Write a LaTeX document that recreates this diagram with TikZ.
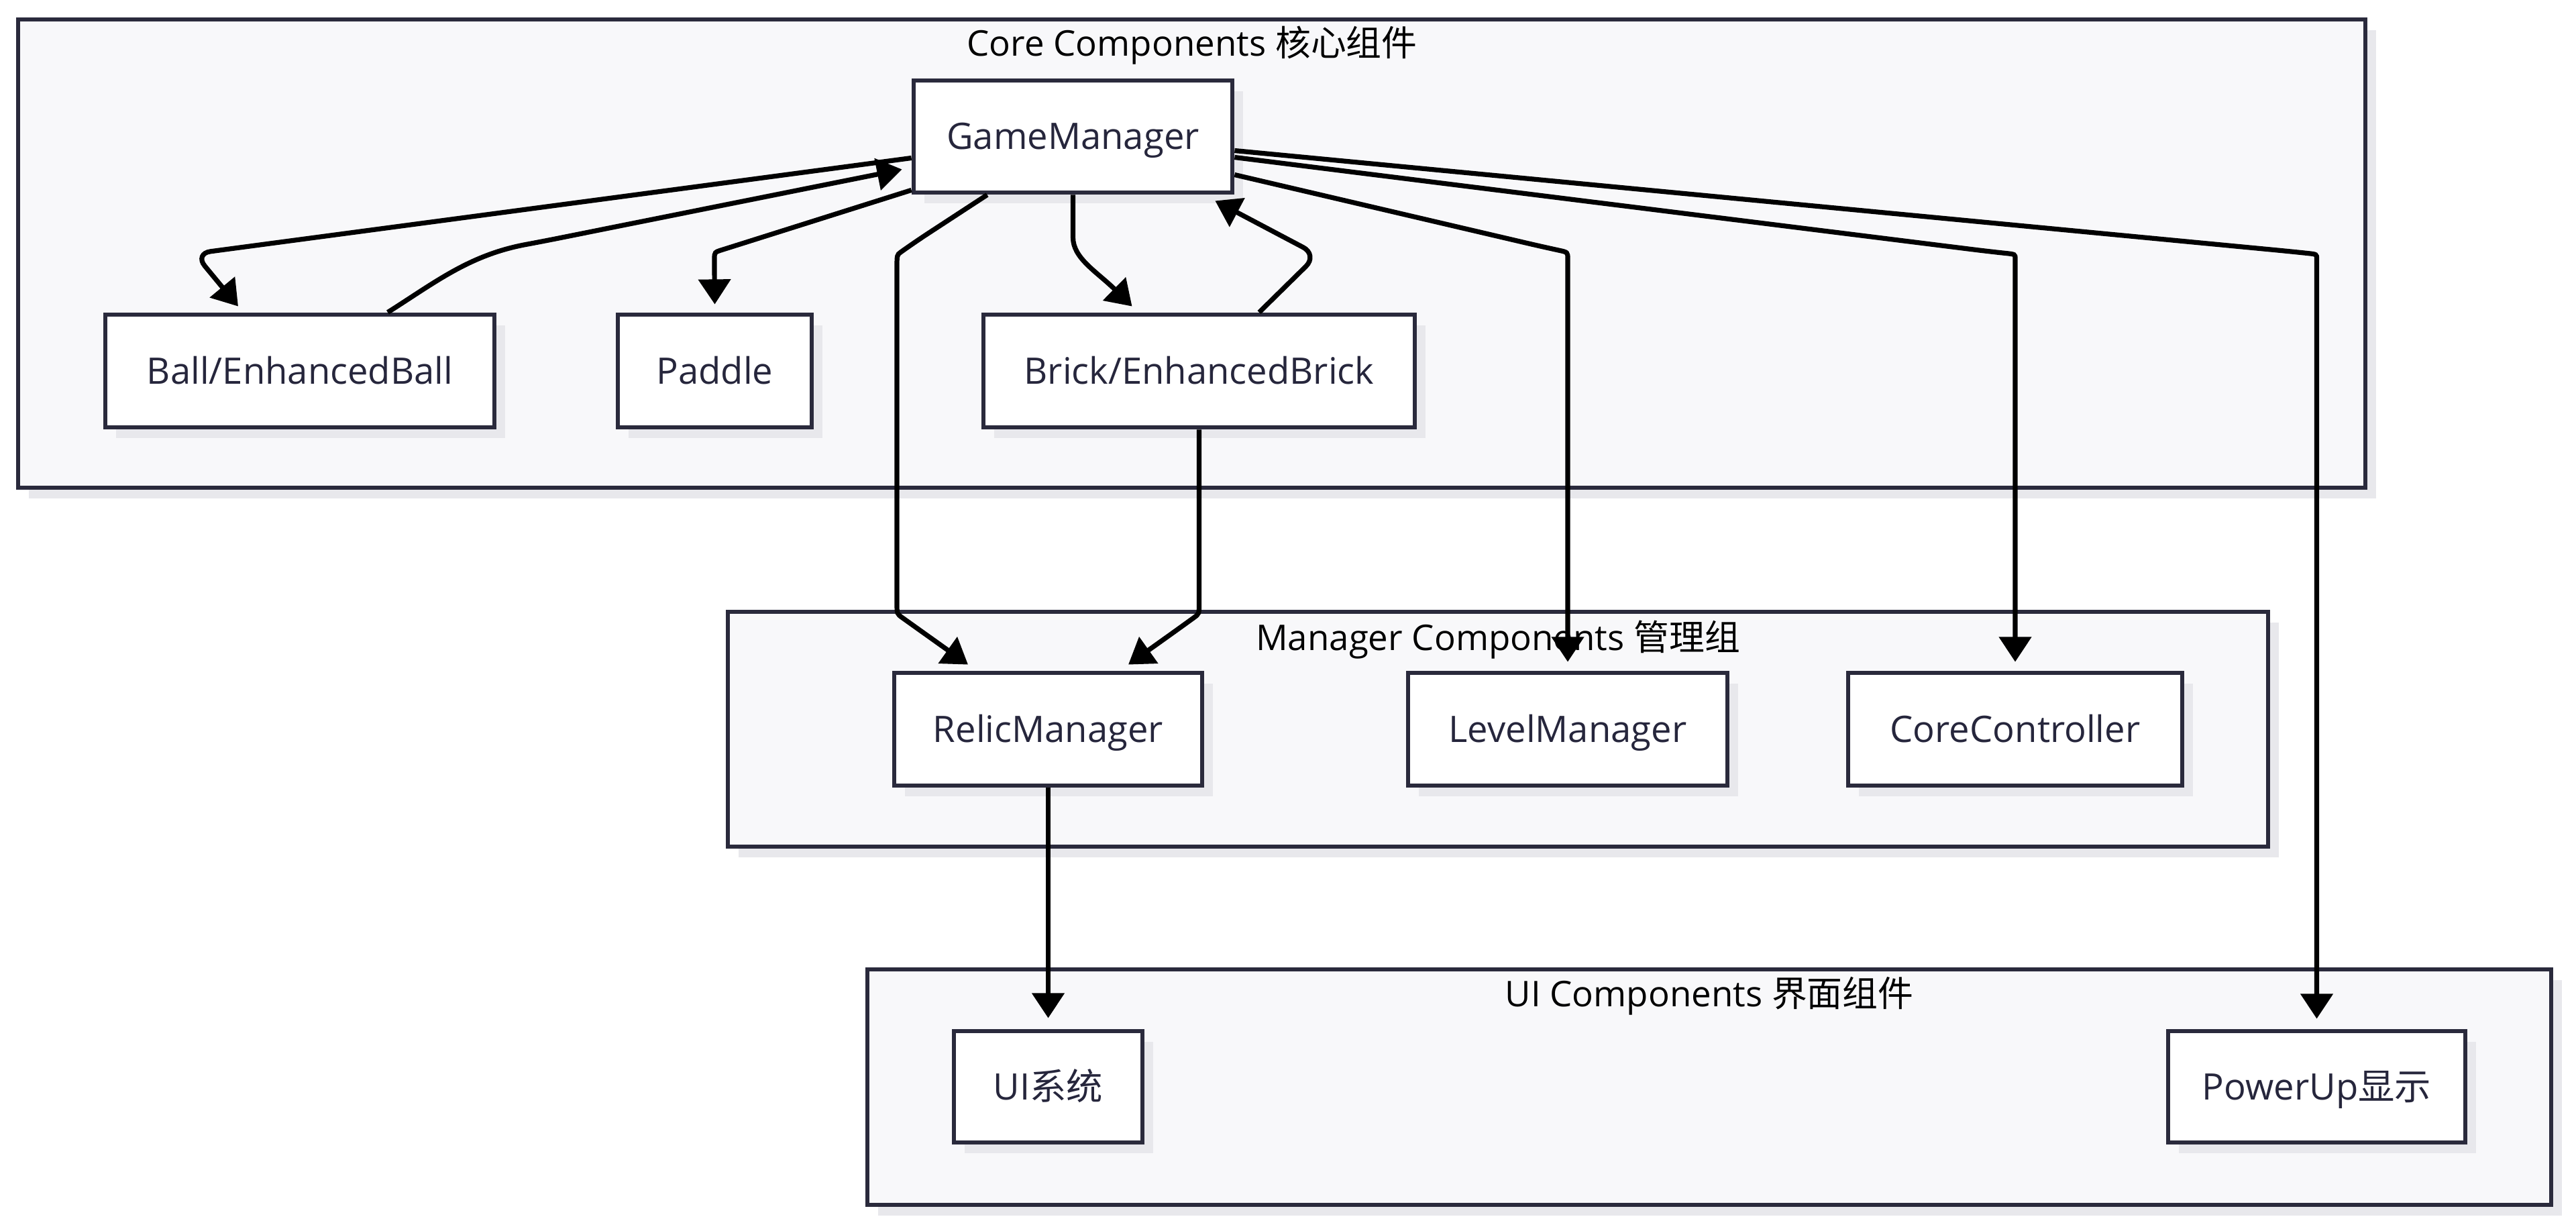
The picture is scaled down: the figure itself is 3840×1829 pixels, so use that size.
\documentclass[tikz,border=0pt]{standalone}
\usepackage{fontspec}
\setmainfont{Open Sans}
\newfontfamily\cjk{Noto Sans CJK SC}
\usetikzlibrary{arrows.meta,calc}
\definecolor{bordc}{RGB}{42,42,60}
\definecolor{txtc}{RGB}{38,38,60}
\definecolor{shadc}{RGB}{232,232,236}
\definecolor{grpc}{RGB}{248,248,250}
\tikzset{
  nodebox/.style={draw=bordc, line width=1.7pt, fill=white, inner sep=0pt, text=txtc,
    font=\fontsize{13.6}{15}\selectfont, text height=9.7pt, text depth=0pt},
  grpbox/.style={draw=bordc, line width=1.6pt, fill=grpc, inner sep=0pt},
  shad/.style={fill=shadc},
  grptitle/.style={anchor=base, font=\fontsize{13.2}{15}\selectfont, text=black, inner sep=0pt},
  edge/.style={draw=black, line width=1.8pt, -{Triangle[length=9.3pt,width=11.8pt]}, rounded corners=6pt},
}
\newcommand\mynode[6]{%
  \fill[shad] (#2+16,#3+16) rectangle (#4+16,#5+16);
  \node[nodebox, minimum width={(#4-#2)*0.25pt}, minimum height={(#5-#3)*0.25pt}]
    (#1) at ({(#2+#4)/2},{(#3+#5)/2}) {#6};}
\newcommand\mygroup[5]{%
  \fill[shad] (#2+16,#3+16) rectangle (#4+16,#5+16);
  \node[grpbox, minimum width={(#4-#2)*0.25pt}, minimum height={(#5-#3)*0.25pt}]
    (#1) at ({(#2+#4)/2},{(#3+#5)/2}) {};}
\begin{document}
\begin{tikzpicture}[x=0.25pt,y=-0.25pt]
\useasboundingbox[fill=white] (0,0) rectangle (3840,1829);
% groups
\mygroup{coreg}{27}{29}{3526}{727}
\mygroup{mgrg}{1085}{912}{3381}{1262}
\mygroup{uig}{1293}{1445}{3803}{1796}
\node[grptitle] (coret) at (1777,84) {Core Components {\cjk 核心组件}};
\node[grptitle] (mgrt) at (2233,969) {Manager Components {\cjk 管理组}};
\node[grptitle] (uit) at (2548,1500) {UI Components {\cjk 界面组件}};
% nodes
\mynode{gm}{1362}{120}{1837}{287}{GameManager}
\mynode{ball}{157}{469}{737}{637}{Ball/EnhancedBall}
\mynode{paddle}{921}{469}{1210}{637}{Paddle}
\mynode{brick}{1466}{469}{2109}{637}{Brick/EnhancedBrick}
\mynode{relic}{1333}{1003}{1792}{1171}{RelicManager}
\mynode{level}{2099}{1003}{2575}{1171}{LevelManager}
\mynode{corec}{2755}{1003}{3253}{1171}{CoreController}
\mynode{uisys}{1422}{1537}{1703}{1703}{UI{\cjk 系统}}
\mynode{powerup}{3232}{1537}{3675}{1703}{PowerUp{\cjk 显示}}
% edges
\draw[edge] ($(gm.west)+(0,32)$) -- (290,378) -- ($(ball.north)+(-92,-9)$);
\draw[edge] (ball.north -| 578,0) .. controls (650,420) and (700,380) .. (808,360) -- ($(gm.west)+(-14,49)$);
\draw[edge] ($(gm.south west)+(0,-7)$) -- (1100,365) .. controls (1065,376) .. (1065,410) -- ($(paddle.north)+(0,-12)$);
\draw[edge] (gm.south) -- (1599.5,330) .. controls (1599.5,385) and (1635,405) .. ($(brick.north)+(-100,-9)$);
\draw[edge] ($(brick.north)+(89.5,0)$) -- (1964,380) -- ($(gm.south east)+(-29,9)$);
\draw[edge] ($(gm.south west)+(113,0)$) -- (1362,362) .. controls (1337,380) .. (1337,425) -- (1337,875) .. controls (1337,915) .. (1365,935) -- ($(relic.north)+(-119.5,-9)$);
\draw[edge] (brick.south) -- (1787.5,875) .. controls (1787.5,915) .. (1760,935) -- ($(relic.north)+(119.5,-9)$);
\draw[edge] ($(gm.east)+(0,57)$) -- (2300,368) .. controls (2337,376) .. (2337,410) -- ($(level.north)+(0,-13)$);
\draw[edge] ($(gm.east)+(0,31)$) -- (2966,375) .. controls (3004,379) .. (3004,410) -- ($(corec.north)+(0,-13)$);
\draw[edge] ($(gm.east)+(0,21)$) -- (3416,375) .. controls (3453.5,379) .. (3453.5,410) -- ($(powerup.north)+(0,-15)$);
\draw[edge] (relic.south) -- ($(uisys.north)+(0,-16)$);
\end{tikzpicture}
\end{document}
